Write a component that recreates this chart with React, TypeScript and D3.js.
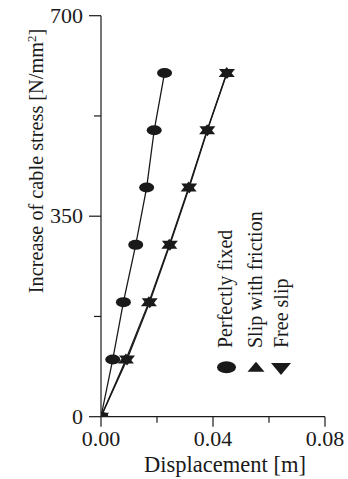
import * as d3 from 'd3';

const W = 348;
const H = 479;

const stress = [0, 100, 200, 300, 400, 500, 600];
const fixedDisp = [0, 0.0042, 0.008, 0.0124, 0.0163, 0.019, 0.0227];
const frictionDisp = [0, 0.0089, 0.0171, 0.0244, 0.0313, 0.0379, 0.0449];
const freeDisp = [0, 0.0093, 0.0174, 0.0246, 0.0315, 0.038, 0.045];

const xMajor = [0, 0.04, 0.08];
const xMinor = [0.02, 0.06];
const yMajor = [0, 350, 700];
const yMinor = [175, 525];

const legendLabels = ['Perfectly fixed', 'Slip with friction', 'Free slip'];

const FONT = "'Liberation Serif', Tinos, 'DejaVu Serif', serif";
const INK = '#1a1a1a';

const x = d3.scaleLinear().domain([0, 0.08]).range([101, 325]);
const y = d3.scaleLinear().domain([0, 700]).range([416.7, 15.7]);

const tri = (cx: number, cy: number, w: number, h: number, up: boolean) => {
  const p = d3.path();
  if (up) {
    p.moveTo(cx - w / 2, cy + h / 2);
    p.lineTo(cx + w / 2, cy + h / 2);
    p.lineTo(cx, cy - h / 2);
  } else {
    p.moveTo(cx - w / 2, cy - h / 2);
    p.lineTo(cx + w / 2, cy - h / 2);
    p.lineTo(cx, cy + h / 2);
  }
  p.closePath();
  return p.toString();
};

const line = (xs: number[]) =>
  d3
    .line<number>()
    .x((d, i) => x(xs[i]))
    .y((d) => y(d))(stress) ?? '';

const txt = { fontFamily: FONT };

export default function App() {
  return (
    <svg
      width={W}
      height={H}
      style={{ position: 'fixed', left: 0, top: 0, background: '#fff' }}
    >
      <defs>
        <clipPath id="plot">
          <rect x={x(0)} y={0} width={W} height={y(0)} />
        </clipPath>
      </defs>

      {/* series lines + markers, clipped to the plot area */}
      <g clipPath="url(#plot)">
        <path d={line(fixedDisp)} fill="none" stroke={INK} strokeWidth={1.3} />
        <path d={line(frictionDisp)} fill="none" stroke={INK} strokeWidth={1.3} />
        <path d={line(freeDisp)} fill="none" stroke={INK} strokeWidth={1.3} />
        {stress.map((s, i) => (
          <ellipse key={'f' + i} cx={x(fixedDisp[i])} cy={y(s)} rx={7.5} ry={5} fill={INK} />
        ))}
        {stress.map((s, i) => (
          <path key={'t' + i} d={tri(x(frictionDisp[i]), y(s) - 1, 16, 10, true)} fill={INK} />
        ))}
        {stress.map((s, i) => (
          <path key={'d' + i} d={tri(x(freeDisp[i]), y(s) + 1, 16, 10, false)} fill={INK} />
        ))}
      </g>

      {/* axes */}
      <line x1={x(0)} x2={x(0)} y1={y(0)} y2={y(700)} stroke={INK} strokeWidth={1.2} />
      <line x1={x(0)} x2={x(0.08)} y1={y(0)} y2={y(0)} stroke={INK} strokeWidth={1.2} />
      {yMajor.map((v) => (
        <g key={'ym' + v}>
          <line x1={x(0) - 12} x2={x(0)} y1={y(v)} y2={y(v)} stroke={INK} strokeWidth={1.2} />
          <text x={83} y={y(v) + 7} fontSize={22} textAnchor="end" fill={INK} style={txt}>
            {v}
          </text>
        </g>
      ))}
      {yMinor.map((v) => (
        <line key={'yn' + v} x1={x(0) - 7} x2={x(0)} y1={y(v)} y2={y(v)} stroke={INK} strokeWidth={1.2} />
      ))}
      {xMajor.map((v) => (
        <g key={'xm' + v}>
          <line x1={x(v)} x2={x(v)} y1={y(0)} y2={y(0) + 10} stroke={INK} strokeWidth={1.2} />
          <text x={x(v)} y={446} fontSize={22} textAnchor="middle" fill={INK} style={txt}>
            {v.toFixed(2)}
          </text>
        </g>
      ))}
      {xMinor.map((v) => (
        <line key={'xn' + v} x1={x(v)} x2={x(v)} y1={y(0)} y2={y(0) + 6} stroke={INK} strokeWidth={1.2} />
      ))}
      <text x={225} y={471.5} fontSize={22.5} textAnchor="middle" fill={INK} style={txt}>
        Displacement [m]
      </text>
      <text
        transform="translate(43,161) rotate(-90)"
        fontSize={20.3}
        textAnchor="middle"
        fill={INK}
        style={txt}
      >
        Increase of cable stress [N/mm<tspan dy={-7} fontSize={13}>2</tspan>
        <tspan dy={7}>]</tspan>
      </text>

      {/* legend */}
      {legendLabels.map((l, i) => (
        <text
          key={l}
          transform={`translate(${[232, 262, 288][i]},348) rotate(-90)`}
          fontSize={20}
          fill={INK}
          style={txt}
        >
          {l}
        </text>
      ))}
      <ellipse cx={226.5} cy={367.3} rx={9.5} ry={6} fill={INK} />
      <path d={tri(256, 366.7, 17, 10, true)} fill={INK} />
      <path d={tri(281, 369, 20, 12, false)} fill={INK} />
    </svg>
  );
}
